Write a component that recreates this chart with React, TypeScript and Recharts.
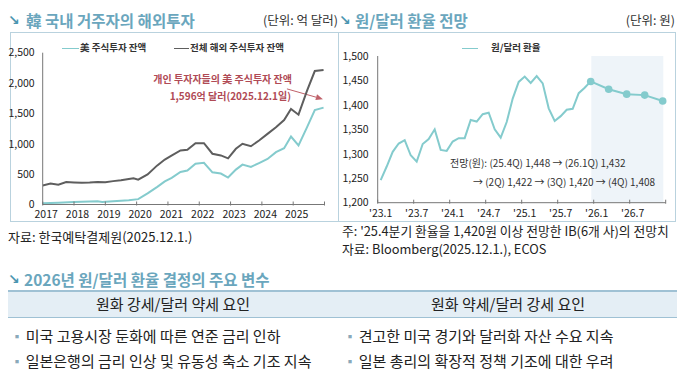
import React from 'react';
import { LineChart, Line, XAxis, YAxis, ReferenceArea, ReferenceLine } from 'recharts';

const FONT = '"Noto Sans CJK KR", "Noto Sans", sans-serif';
const TEAL = '#84cbcd';
const GRAY = '#5e5e5e';
const TITLE = '#6aa6bd';
const BOX = '#b9d2de';

// 韓 국내 거주자의 해외투자 (억 달러)
const usTimes = [2017.0, 2017.5, 2018.0, 2018.5, 2018.75, 2018.9, 2019.25, 2019.75, 2020.05, 2020.35, 2020.66, 2020.9, 2021.12, 2021.4, 2021.62, 2021.88, 2022.15, 2022.42, 2022.69, 2022.92, 2023.17, 2023.38, 2023.65, 2023.91, 2024.18, 2024.45, 2024.71, 2024.93, 2025.17, 2025.44, 2025.69, 2025.97];
const usValues = [20, 28, 40, 48, 52, 40, 55, 70, 88, 183, 291, 380, 440, 536, 560, 673, 688, 530, 510, 444, 575, 657, 618, 683, 750, 863, 928, 1119, 972, 1271, 1556, 1596];
const totalTimes = [2017.0, 2017.25, 2017.5, 2017.75, 2018.0, 2018.25, 2018.5, 2018.75, 2019.0, 2019.25, 2019.5, 2019.75, 2019.9, 2020.05, 2020.35, 2020.65, 2020.9, 2021.1, 2021.4, 2021.62, 2021.88, 2022.15, 2022.42, 2022.69, 2022.92, 2023.17, 2023.38, 2023.65, 2023.91, 2024.18, 2024.45, 2024.71, 2024.93, 2025.17, 2025.44, 2025.69, 2025.97];
const totalValues = [314, 346, 326, 370, 364, 358, 362, 372, 368, 385, 398, 420, 432, 410, 495, 640, 740, 800, 890, 900, 1010, 1010, 836, 808, 760, 918, 1000, 960, 1054, 1163, 1271, 1392, 1572, 1479, 1871, 2198, 2214];
const yearTicks = [2017, 2018, 2019, 2020, 2021, 2022, 2023, 2024, 2025, 2026];
const investTicks = [0, 500, 1000, 1500, 2000, 2500];

// 원/달러 환율 (2023.1 ~ 2025.12 월별, 이후 분기 전망)
const fxMonthly = [
  1246, 1274, 1304, 1321, 1328, 1297, 1284, 1320, 1330, 1350, 1308, 1306,
  1325, 1332, 1332, 1369, 1366, 1381, 1384, 1350, 1333, 1365, 1413, 1447,
  1458, 1445, 1459, 1444, 1393, 1367, 1377, 1390, 1392, 1424, 1435, 1448,
];
const fcIndex = [35, 38, 41, 44, 47];
const fcValues = [1448, 1432, 1422, 1420, 1408];
const fxTicks = [0, 6, 12, 18, 24, 30, 36, 42, 48];
const fxTickLabels = ["'23.1", "'23.7", "'24.1", "'24.7", "'25.1", "'25.7", "'26.1", "'26.7", ''];
const fxYTicks = [1200, 1250, 1300, 1350, 1400, 1450, 1500];

const usData = usTimes.map((t, i) => ({ t, v: usValues[i] }));
const totalData = totalTimes.map((t, i) => ({ t, v: totalValues[i] }));
const fxData = Array.from({ length: 48 }, (_, i) => ({
  t: i + 0.5,
  rate: i < fxMonthly.length ? fxMonthly[i] : null,
  fc: fcIndex.includes(i) ? fcValues[fcIndex.indexOf(i)] : null,
}));

const YearTick = (props: any) => {
  const { x, y, payload } = props;
  const axisY = y - 7;
  const label = payload.value < 2026 ? String(payload.value) : '';
  return (
    <g>
      <line x1={x} x2={x} y1={axisY - 3} y2={axisY + 1} stroke="#777" />
      <text x={x + 3.5} y={axisY + 6} dy="0.71em" textAnchor="middle" fontSize={10.5} fill="#222" fontFamily={FONT}>
        {label}
      </text>
    </g>
  );
};

const MonthTick = (props: any) => {
  const { x, y, payload } = props;
  const axisY = y - 7;
  const label = fxTickLabels[fxTicks.indexOf(payload.value)] ?? '';
  return (
    <g>
      <line x1={x} x2={x} y1={axisY - 3} y2={axisY + 1} stroke="#777" />
      <text x={x + 3} y={axisY + 7} dy="0.71em" textAnchor="middle" fontSize={10.5} fill="#222" fontFamily={FONT}>
        {label}
      </text>
    </g>
  );
};

const ArrowShape = (p: any) => {
  const { x1, y1, x2, y2 } = p;
  const a = Math.atan2(y2 - y1, x2 - x1);
  const L = 7;
  const W = 3;
  const bx = x2 - L * Math.cos(a);
  const by = y2 - L * Math.sin(a);
  const pts = [
    `${x2},${y2}`,
    `${bx + W * Math.sin(a)},${by - W * Math.cos(a)}`,
    `${bx - W * Math.sin(a)},${by + W * Math.cos(a)}`,
  ].join(' ');
  return (
    <g>
      <line x1={x1} y1={y1} x2={bx} y2={by} stroke="#c0616a" strokeWidth={1} />
      <polygon points={pts} fill="#c0616a" />
    </g>
  );
};

const abs = (left: number, top: number, extra: React.CSSProperties = {}): React.CSSProperties => ({
  position: 'absolute',
  left,
  top,
  whiteSpace: 'nowrap',
  ...extra,
});

const Arrow = ({ left, top }: { left: number; top: number }) => (
  <span style={abs(left, top, { color: '#4b95b0', fontSize: 14, fontWeight: 700, lineHeight: '16px', fontFamily: '"DejaVu Sans", sans-serif' })}>↘</span>
);

const Bullet = () => <span style={{ color: '#8aa9ba', fontSize: 12 }}>▪ </span>;

export default function App() {
  return (
    <div style={{ position: 'absolute', left: 0, top: 0, width: 678, height: 382, overflow: 'hidden', background: '#fff', fontFamily: FONT, color: '#222' }}>
      {/* titles */}
      <Arrow left={8} top={12} />
      <div style={abs(26, 8, { fontSize: 15.5, fontWeight: 700, color: TITLE, lineHeight: '24px' })}>韓 국내 거주자의 해외투자</div>
      <div style={abs(0, 11, { width: 338, textAlign: 'right', fontSize: 12.5, lineHeight: '18px', color: '#333' })}>(단위: 억 달러)</div>
      <Arrow left={339} top={12} />
      <div style={abs(355, 8, { fontSize: 15.5, fontWeight: 700, color: TITLE, lineHeight: '24px' })}>원/달러 환율 전망</div>
      <div style={abs(0, 11, { width: 675, textAlign: 'right', fontSize: 12.5, lineHeight: '18px', color: '#333' })}>(단위: 원)</div>

      {/* boxes */}
      <div style={abs(10, 32, { width: 329, height: 190, border: `1px solid ${BOX}`, boxSizing: 'border-box' })} />
      <div style={abs(338, 32, { width: 338, height: 190, border: `1px solid ${BOX}`, boxSizing: 'border-box' })} />

      {/* left chart */}
      <div style={abs(0, 32)}>
        <LineChart width={339} height={190} margin={{ top: 20.7, right: 14.5, bottom: 0, left: 0 }}>
          <XAxis
            dataKey="t"
            type="number"
            domain={[2017, 2026]}
            ticks={yearTicks}
            allowDataOverflow
            height={17.5}
            tickSize={0}
            tickMargin={7}
            tickLine={false}
            axisLine={{ stroke: '#777' }}
            tick={<YearTick />}
            interval={0}
          />
          <YAxis
            type="number"
            domain={[0, 2500]}
            ticks={investTicks}
            width={42.7}
            tickSize={0}
            tickMargin={8}
            tickLine={false}
            axisLine={{ stroke: '#777' }}
            tick={{ fontSize: 10.5, fill: '#222', fontFamily: FONT }}
            tickFormatter={(v: number) => v.toLocaleString('en-US')}
            interval={0}
          />
          <ReferenceLine
            segment={[{ x: 2024.8, y: 1904 }, { x: 2025.95, y: 1735 }]}
            ifOverflow="visible"
            shape={<ArrowShape />}
          />
          <Line data={totalData} dataKey="v" type="linear" stroke={GRAY} strokeWidth={2} dot={false} isAnimationActive={false} />
          <Line data={usData} dataKey="v" type="linear" stroke={TEAL} strokeWidth={2} dot={false} isAnimationActive={false} />
        </LineChart>
      </div>
      {/* left legend */}
      <div style={abs(62, 47.5, { width: 17, borderTop: `1.5px solid ${TEAL}` })} />
      <div style={abs(80, 40, { fontSize: 9.5, fontWeight: 700, lineHeight: '14px', color: '#333' })}>美 주식투자 잔액</div>
      <div style={abs(174, 47.5, { width: 15, borderTop: `1.5px solid ${GRAY}` })} />
      <div style={abs(190, 40, { fontSize: 9.5, fontWeight: 700, lineHeight: '14px', color: '#333' })}>전체 해외 주식투자 잔액</div>
      {/* left annotation */}
      <div style={abs(0, 71, { width: 292, textAlign: 'right', fontSize: 10, fontWeight: 600, lineHeight: '15px', color: '#b04a55' })}>개인 투자자들의 美 주식투자 잔액</div>
      <div style={abs(0, 88, { width: 291, textAlign: 'right', fontSize: 10, fontWeight: 600, lineHeight: '15px', color: '#b04a55' })}>1,596억 달러(2025.12.1일)</div>

      {/* right chart */}
      <div style={abs(329, 32)}>
        <LineChart width={347} height={190} data={fxData} margin={{ top: 24, right: 10.3, bottom: 0, left: 0 }}>
          <ReferenceArea x1={35.6} x2={47.6} y1={1200} y2={1500} fill="#eef4f9" fillOpacity={1} stroke="none" ifOverflow="visible" />
          <XAxis
            dataKey="t"
            type="number"
            domain={[0, 48]}
            ticks={fxTicks}
            height={19.3}
            tickSize={0}
            tickMargin={7}
            tickLine={false}
            axisLine={{ stroke: '#777' }}
            tick={<MonthTick />}
            interval={0}
          />
          <YAxis
            type="number"
            domain={[1200, 1500]}
            ticks={fxYTicks}
            width={48.7}
            tickSize={0}
            tickMargin={9}
            tickLine={false}
            axisLine={{ stroke: '#777' }}
            tick={{ fontSize: 10.5, fill: '#222', fontFamily: FONT }}
            tickFormatter={(v: number) => v.toLocaleString('en-US')}
            interval={0}
          />
          <Line dataKey="rate" type="linear" stroke={TEAL} strokeWidth={2} dot={false} isAnimationActive={false} />
          <Line
            dataKey="fc"
            type="linear"
            connectNulls
            stroke={TEAL}
            strokeWidth={2}
            dot={{ r: 3.8, fill: TEAL, stroke: TEAL, strokeWidth: 0 }}
            isAnimationActive={false}
          />
        </LineChart>
      </div>
      {/* right legend */}
      <div style={abs(462, 47.5, { width: 16, borderTop: `1.5px solid ${TEAL}` })} />
      <div style={abs(491, 40, { fontSize: 9.5, fontWeight: 700, lineHeight: '14px', color: '#333' })}>원/달러 환율</div>
      {/* right annotation */}
      <div style={abs(450, 155, { fontSize: 10, lineHeight: '16px', color: '#333' })}>전망(원): (25.4Q) 1,448 → (26.1Q) 1,432</div>
      <div style={abs(473, 174, { fontSize: 10, lineHeight: '16px', color: '#333' })}>→ (2Q) 1,422 → (3Q) 1,420 → (4Q) 1,408</div>

      {/* sources */}
      <div style={abs(8, 229, { fontSize: 13, lineHeight: '15px', color: '#222' })}>자료: 한국예탁결제원(2025.12.1.)</div>
      <div style={abs(342, 223, { fontSize: 12.8, lineHeight: '15px', color: '#222' })}>주: '25.4분기 환율을 1,420원 이상 전망한 IB(6개 사)의 전망치</div>
      <div style={abs(342, 241, { fontSize: 12.8, lineHeight: '15px', color: '#222' })}>자료: Bloomberg(2025.12.1.), ECOS</div>

      {/* factors table */}
      <Arrow left={8} top={271} />
      <div style={abs(24, 267, { fontSize: 15.5, fontWeight: 700, color: TITLE, lineHeight: '24px' })}>2026년 원/달러 환율 결정의 주요 변수</div>
      <div style={abs(8, 290, { width: 669, height: 28, background: '#e4eef5', borderTop: '2px solid #9fc1d4', borderBottom: '1px solid #9fc1d4', boxSizing: 'border-box' })} />
      <div style={abs(8, 293, { width: 330, textAlign: 'center', fontSize: 15, lineHeight: '22px', color: '#222' })}>원화 강세/달러 약세 요인</div>
      <div style={abs(340, 293, { width: 336, textAlign: 'center', fontSize: 15, lineHeight: '22px', color: '#222' })}>원화 약세/달러 강세 요인</div>
      <div style={abs(11, 325, { fontSize: 15, lineHeight: '22px', color: '#222' })}><Bullet />미국 고용시장 둔화에 따른 연준 금리 인하</div>
      <div style={abs(11, 350, { fontSize: 15, lineHeight: '22px', color: '#222' })}><Bullet />일본은행의 금리 인상 및 유동성 축소 기조 지속</div>
      <div style={abs(344, 325, { fontSize: 15, lineHeight: '22px', color: '#222' })}><Bullet />견고한 미국 경기와 달러화 자산 수요 지속</div>
      <div style={abs(344, 350, { fontSize: 15, lineHeight: '22px', color: '#222' })}><Bullet />일본 총리의 확장적 정책 기조에 대한 우려</div>
    </div>
  );
}
